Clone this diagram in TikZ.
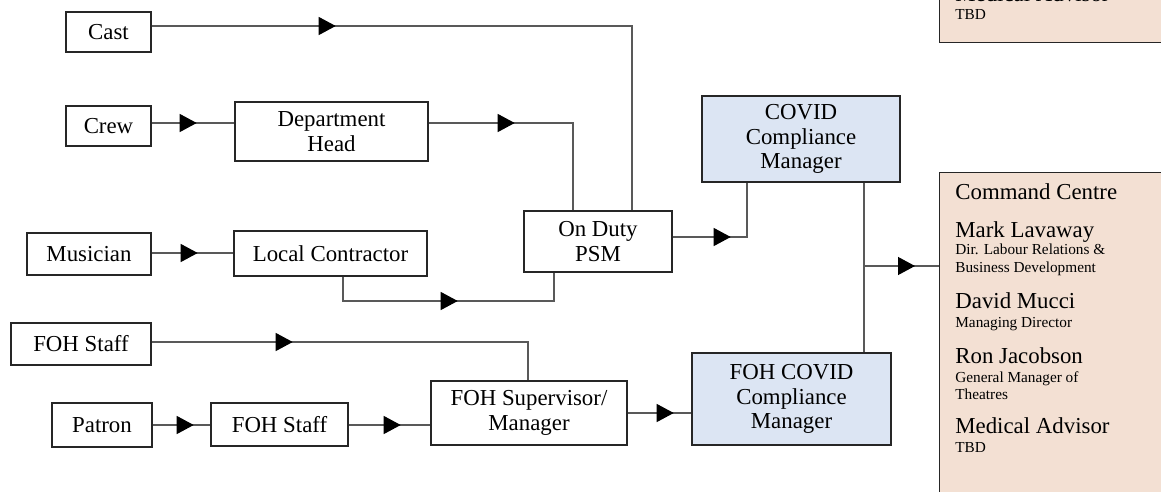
\documentclass[tikz,border=0pt]{standalone}
\usepackage{fontspec}
\setmainfont{Liberation Serif}
\usetikzlibrary{arrows.meta,decorations.markings}
\definecolor{covidblue}{RGB}{220,229,243}
\definecolor{centrepeach}{RGB}{243,224,211}
\newcommand{\cbig}{\fontsize{13}{14}\selectfont}
\newcommand{\csmall}{\fontsize{8.7}{10}\selectfont}
\begin{document}
\begin{tikzpicture}[x=0.2mm, y=-0.2mm,
  main node/.style={draw=black!85, line width=0.8pt, fill=white, align=center, inner sep=0pt, font=\cbig},
  covid node/.style={main node, fill=covidblue},
  centre node/.style={draw=black!85, line width=0.8pt, fill=centrepeach, inner sep=0pt},
  flow/.style={draw=black!65, line width=0.7pt, postaction={decorate},
    decoration={markings, mark=at position #1 with {\arrow{Triangle[length=3.4mm, width=3.6mm, color=black, fill=black]}}}}]
\useasboundingbox (0,0) rectangle (1161,491);
\clip (0,0) rectangle (1161,491);
% people
\node [main node, minimum width=17mm, minimum height=8mm] (cast) at (108.5,32) {Cast};
\node [main node, minimum width=17mm, minimum height=8mm] (crew) at (108.5,126) {Crew};
\node [main node, minimum width=24.8mm, minimum height=8.4mm] (musician) at (89,254) {Musician};
\node [main node, minimum width=28mm, minimum height=8.4mm] (foh) at (81,344) {FOH Staff};
\node [main node, minimum width=20mm, minimum height=8.8mm] (patron) at (102,425) {Patron};
% middle
\node [main node, minimum width=38.6mm, minimum height=11.8mm] (dept) at (331.5,131.5) {Department\\Head};
\node [main node, minimum width=38.6mm, minimum height=9mm] (lc) at (330.5,253.5) {Local Contractor};
\node [main node, minimum width=27.4mm, minimum height=8.6mm] (staff) at (279.5,424.5) {FOH Staff};
\node [main node, minimum width=29.6mm, minimum height=12.2mm] (psm) at (598,241.5) {On Duty\\PSM};
\node [main node, minimum width=39.2mm, minimum height=12.8mm] (fohsup) at (529,413) {FOH Supervisor/\\Manager};
% compliance
\node [covid node, minimum width=39.6mm, minimum height=17.2mm] (covid) at (801,139) {COVID\\Compliance\\Manager};
\node [covid node, minimum width=39.8mm, minimum height=18.4mm] (fohcovid) at (791.5,399) {FOH COVID\\Compliance\\Manager};
% command centre
\node [centre node, anchor=south west, minimum width=47.2mm, minimum height=12mm] (advisor) at (939,43) {};
\node [centre node, anchor=north west, minimum width=47.2mm, minimum height=66mm] (cc) at (939,172) {};
\node [anchor=base west, inner sep=0pt, font=\cbig] (adv-1) at (955,1) {Medical Advisor};
\node [anchor=base west, inner sep=0pt, font=\csmall] (adv-2) at (955,19) {TBD};
\foreach \y/\s/\t [count=\i] in {199/\cbig/Command Centre, 237/\cbig/Mark Lavaway,
    254/\csmall/Dir. Labour Relations \&, 272/\csmall/Business Development,
    308/\cbig/David Mucci, 327/\csmall/Managing Director,
    363/\cbig/Ron Jacobson, 382/\csmall/General Manager of, 399/\csmall/Theatres,
    433/\cbig/Medical Advisor, 452/\csmall/TBD}
  \node [anchor=base west, inner sep=0pt, font=\s] (cc-\i) at (955,\y) {\t};
\coordinate (split) at (864,266);
% connectors
\draw [flow=36.8mm] (cast.east |- 0,26) -| (632,0 |- psm.north);
\draw [flow=9mm] (crew.east |- 0,123) -- (dept.west |- 0,123);
\draw [flow=17.2mm] (dept.east |- 0,123) -| (573,0 |- psm.north);
\draw [flow=9.2mm] (musician.east |- 0,253) -- (lc.west |- 0,253);
\draw [flow=27.8mm] (343,0 |- lc.south) -- (343,301) -| (554,0 |- psm.south);
\draw [flow=11.6mm] (psm.east |- 0,237) -| (747,0 |- covid.south);
\draw [draw=black!65, line width=0.7pt] (864,0 |- covid.south) -- (864,0 |- fohcovid.north);
\draw [flow=10.2mm] (split) -- (cc.west |- split);
\draw [flow=28.2mm] (foh.east |- 0,342) -| (528,0 |- fohsup.north);
\draw [flow=8.2mm] (patron.east |- 0,425) -- (staff.west |- 0,425);
\draw [flow=10.4mm] (staff.east |- 0,425) -- (fohsup.west |- 0,425);
\draw [flow=9.2mm] (fohsup.east |- 0,413) -- (fohcovid.west |- 0,413);
\end{tikzpicture}
\end{document}
